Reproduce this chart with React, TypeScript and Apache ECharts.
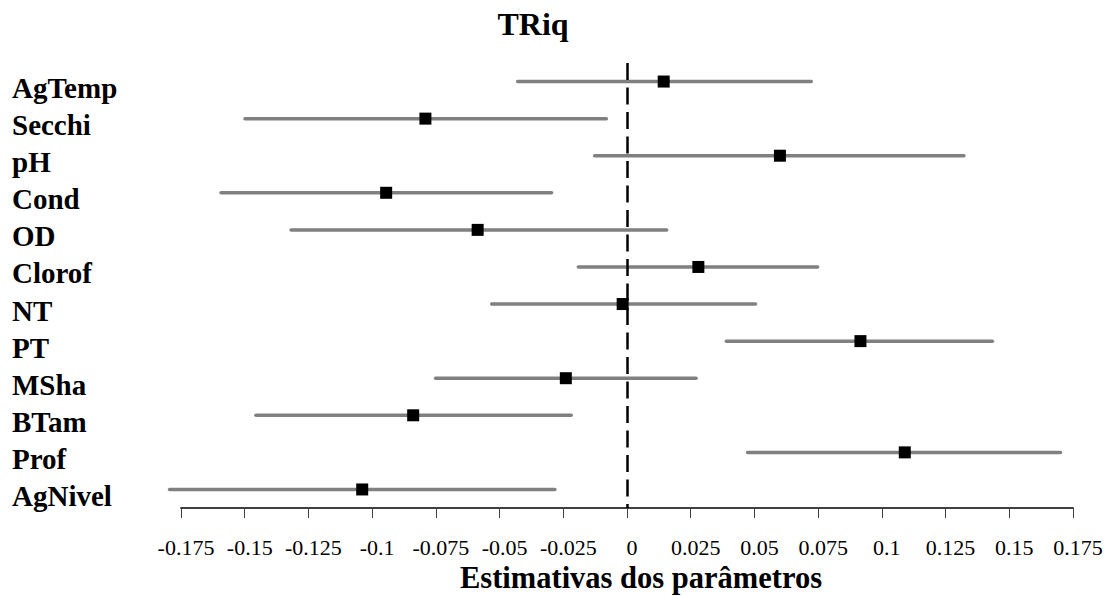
import React, { useEffect, useRef } from "react";
import * as echarts from "echarts";

const categories = ["AgTemp", "Secchi", "pH", "Cond", "OD", "Clorof", "NT", "PT", "MSha", "BTam", "Prof", "AgNivel"];
const estimates = [0.0144, -0.0791, 0.06, -0.0945, -0.0586, 0.028, -0.0017, 0.0916, -0.024, -0.0839, 0.109, -0.1039];
const lower = [-0.0429, -0.1499, -0.0127, -0.1593, -0.1318, -0.0191, -0.0531, 0.039, -0.0751, -0.1456, 0.0473, -0.1795];
const upper = [0.0723, -0.0081, 0.1322, -0.0296, 0.0156, 0.0748, 0.0504, 0.1434, 0.0271, -0.0219, 0.1701, -0.0283];
const xTicks = { min: -0.175, max: 0.175, interval: 0.025 };
const title = "TRiq";
const xName = "Estimativas dos parâmetros";

const FONT = '"Liberation Serif", "Times New Roman", serif';

export default function App() {
  const ref = useRef<HTMLDivElement>(null);
  useEffect(() => {
    if (!ref.current) return;
    const chart = echarts.init(ref.current, null, { renderer: "svg" });
    const intervals = categories.map((c, i) => [lower[i], upper[i], i]);
    const points = categories.map((c, i) => [estimates[i], i]);
    chart.setOption({
      animation: false,
      backgroundColor: "#ffffff",
      grid: { left: 181, right: 34, top: 63, bottom: 88, containLabel: false },
      xAxis: {
        type: "value",
        min: xTicks.min,
        max: xTicks.max,
        interval: xTicks.interval,
        splitLine: { show: false },
        axisLine: { show: true, onZero: false, lineStyle: { color: "#404040", width: 2 } },
        axisTick: { show: true, length: 10, lineStyle: { color: "#404040", width: 1 } },
        axisLabel: {
          show: true,
          interval: 0,
          showMinLabel: true,
          showMaxLabel: true,
          margin: 28,
          color: "#000",
          fontFamily: FONT,
          fontSize: 22,
          lineHeight: 22,
          padding: [0, 0, 0, 10],
          formatter: (v: number) => String(parseFloat(v.toFixed(3))),
        },
      },
      yAxis: {
        type: "category",
        data: categories,
        inverse: true,
        boundaryGap: true,
        axisLine: { show: false },
        axisTick: { show: false },
        splitLine: { show: false },
        axisLabel: {
          show: true,
          interval: 0,
          align: "left",
          verticalAlign: "top",
          lineHeight: 13,
          margin: 169,
          color: "#000",
          fontFamily: FONT,
          fontWeight: "bold",
          fontSize: 29,
        },
      },
      graphic: [
        {
          type: "text",
          x: 533,
          y: 24,
          style: {
            text: title,
            fill: "#000",
            font: `bold 32px ${FONT}`,
            textAlign: "center",
            textVerticalAlign: "middle",
          },
        },
        {
          type: "text",
          x: 641,
          y: 578,
          style: {
            text: xName,
            fill: "#000",
            font: `bold 30.5px ${FONT}`,
            textAlign: "center",
            textVerticalAlign: "middle",
          },
        },
      ],
      series: [
        {
          type: "custom",
          clip: false,
          silent: true,
          encode: { x: [0, 1], y: 2 },
          data: intervals,
          renderItem: (params: any, api: any) => {
            const yi = api.value(2);
            const p1 = api.coord([api.value(0), yi]);
            const p2 = api.coord([api.value(1), yi]);
            return {
              type: "line",
              shape: { x1: p1[0], y1: p1[1], x2: p2[0], y2: p2[1] },
              style: { stroke: "#808080", lineWidth: 3.5, lineCap: "round" },
            };
          },
          z: 2,
        },
        {
          type: "scatter",
          data: points,
          symbol: "rect",
          symbolSize: 12,
          itemStyle: { color: "#000", opacity: 1 },
          silent: true,
          z: 4,
          markLine: {
            silent: true,
            symbol: ["none", "none"],
            label: { show: false },
            lineStyle: { color: "#000", width: 2.5, type: [17, 7.5], opacity: 1 },
            data: [{ xAxis: 0 }],
          },
        },
      ],
    });
    return () => chart.dispose();
  }, []);
  return (
    <div
      ref={ref}
      style={{ position: "fixed", left: 0, top: 0, width: 1107, height: 596, background: "#fff" }}
    />
  );
}
